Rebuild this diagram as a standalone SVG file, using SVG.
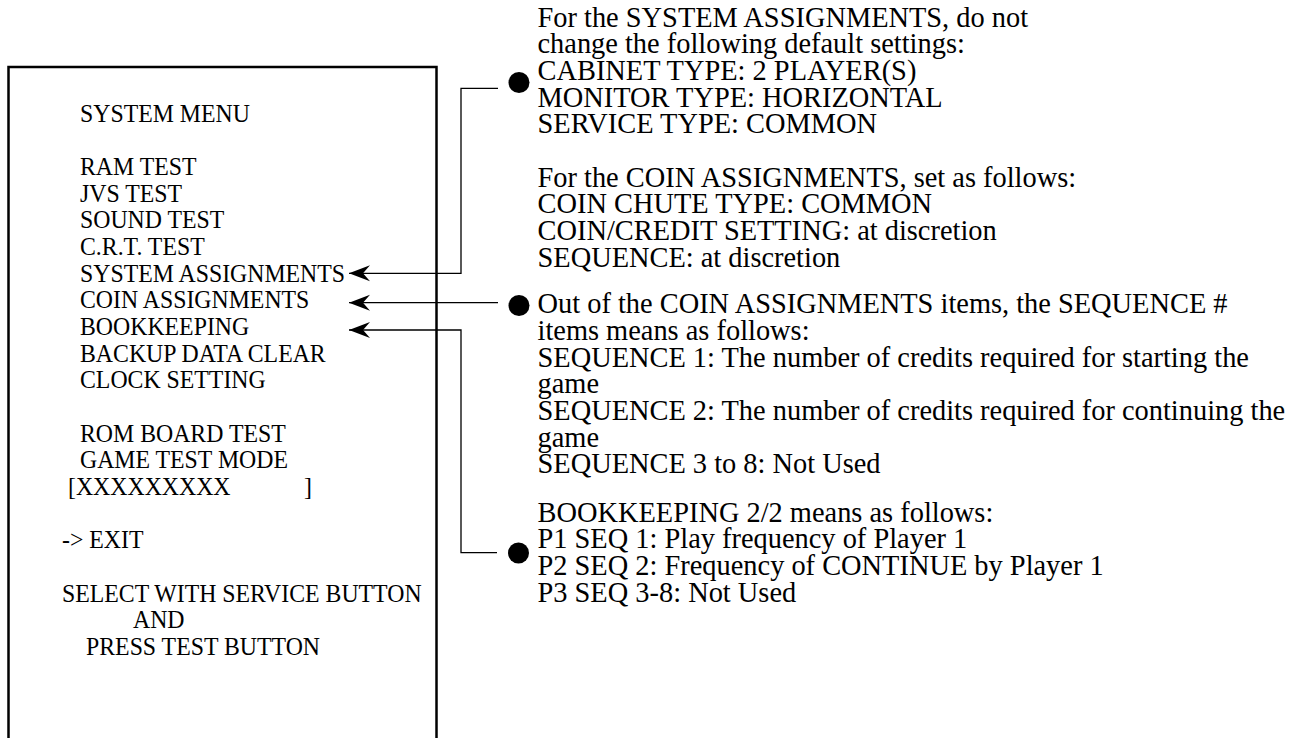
<svg xmlns="http://www.w3.org/2000/svg" width="1308" height="738" viewBox="0 0 1308 738">
<style>
text { font-family: "Liberation Serif", "Times New Roman", serif; fill: #000; }
.menu text { font-size: 23.8px; }
.note text { font-size: 28.4px; }
.conn { fill: none; stroke: #000; stroke-width: 1.3; }
.bullet { fill: #000; }
</style>
<defs>
<marker id="barb" viewBox="-22 -9 23 18" refX="0" refY="0" markerWidth="23" markerHeight="18" markerUnits="userSpaceOnUse" orient="auto" overflow="visible">
<path d="M0,0 L-21,-8 L-14,0 L-21,8 Z" fill="#000"/>
</marker>
</defs>
<rect width="1308" height="738" fill="#fff"/>

<g id="menu-box" class="menu">
<rect x="8.5" y="67" width="428" height="690" fill="none" stroke="#000" stroke-width="2.5"/>
<g transform="matrix(1 0 0 1.06 0 0)">
<text x="80" y="114.8">SYSTEM MENU</text>
<text x="80" y="165.1">RAM TEST</text>
<text x="80" y="190.3">JVS TEST</text>
<text x="80" y="215.4">SOUND TEST</text>
<text x="80" y="240.6">C.R.T. TEST</text>
<text x="80" y="265.8">SYSTEM ASSIGNMENTS</text>
<text x="80" y="290.8">COIN ASSIGNMENTS</text>
<text x="80" y="316">BOOKKEEPING</text>
<text x="80" y="341.2">BACKUP DATA CLEAR</text>
<text x="80" y="366.3">CLOCK SETTING</text>
<text x="80" y="416.7">ROM BOARD TEST</text>
<text x="80" y="441.8">GAME TEST MODE</text>
<text x="68" y="467">[XXXXXXXXX<tspan x="304">]</tspan></text>
<text x="62" y="517.3">-&gt; EXIT</text>
<text x="62" y="567.6">SELECT WITH SERVICE BUTTON</text>
<text x="133" y="592.7">AND</text>
<text x="86" y="617.9">PRESS TEST BUTTON</text>
</g>
</g>

<g id="note-system" class="note">
<circle class="bullet" cx="519" cy="82.5" r="10.5"/>
<text x="537.5" y="26.7">For the SYSTEM ASSIGNMENTS, do not</text>
<text x="537.5" y="53.3">change the following default settings:</text>
<text x="537.5" y="80">CABINET TYPE: 2 PLAYER(S)</text>
<text x="537.5" y="106.7">MONITOR TYPE: HORIZONTAL</text>
<text x="537.5" y="133.3">SERVICE TYPE: COMMON</text>
<text x="537.5" y="186.7">For the COIN ASSIGNMENTS, set as follows:</text>
<text x="537.5" y="213.3">COIN CHUTE TYPE: COMMON</text>
<text x="537.5" y="240">COIN/CREDIT SETTING: at discretion</text>
<text x="537.5" y="266.7">SEQUENCE: at discretion</text>
</g>

<g id="note-coin" class="note">
<circle class="bullet" cx="519" cy="305.5" r="10.5"/>
<text x="537.5" y="313.3">Out of the COIN ASSIGNMENTS items, the SEQUENCE #</text>
<text x="537.5" y="340">items means as follows:</text>
<text x="537.5" y="366.7">SEQUENCE 1: The number of credits required for starting the</text>
<text x="537.5" y="393.3">game</text>
<text x="537.5" y="420">SEQUENCE 2: The number of credits required for continuing the</text>
<text x="537.5" y="446.7">game</text>
<text x="537.5" y="473.3">SEQUENCE 3 to 8: Not Used</text>
</g>

<g id="note-bookkeeping" class="note">
<circle class="bullet" cx="518.5" cy="553" r="10.5"/>
<text x="537.5" y="521.7">BOOKKEEPING 2/2 means as follows:</text>
<text x="537.5" y="548.3">P1 SEQ 1: Play frequency of Player 1</text>
<text x="537.5" y="575">P2 SEQ 2: Frequency of CONTINUE by Player 1</text>
<text x="537.5" y="601.7">P3 SEQ 3-8: Not Used</text>
</g>

<g id="connectors">
<path class="conn" d="M498,88.3 H461 V273.3 H349" marker-end="url(#barb)"/>
<path class="conn" d="M498,302.7 H349" marker-end="url(#barb)"/>
<path class="conn" d="M497,552.7 H461 V330 H349" marker-end="url(#barb)"/>
</g>
</svg>
